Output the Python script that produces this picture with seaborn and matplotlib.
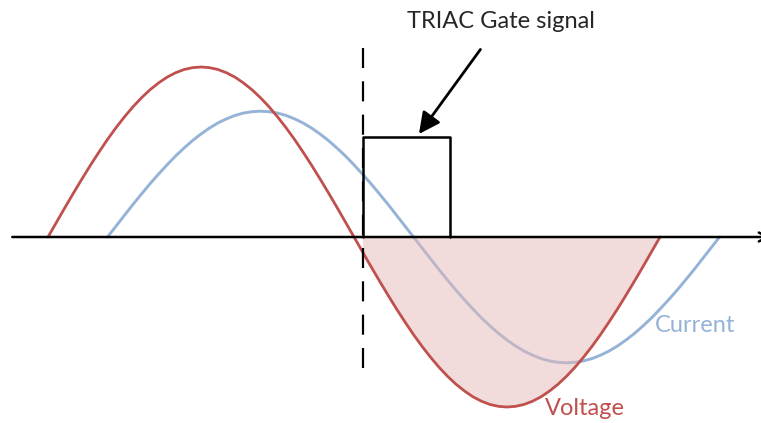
import numpy as np
import matplotlib
matplotlib.use("Agg")
import matplotlib.pyplot as plt
import seaborn as sns
from matplotlib.patches import Rectangle

volt_deg = list(range(0, 361, 5))
voltage = [0, .087, .174, .259, .342, .423, .500, .574, .643, .707, .766, .819, .866, .906, .940, .966, .985, .996,
           1.000, .996, .985, .966, .940, .906, .866, .819, .766, .707, .643, .574, .500, .423, .342, .259, .174, .087,
           0, -.087, -.174, -.259, -.342, -.423, -.500, -.574, -.643, -.707, -.766, -.819, -.866, -.906, -.940, -.966, -.985, -.996,
           -1.000, -.996, -.985, -.966, -.940, -.906, -.866, -.819, -.766, -.707, -.643, -.574, -.500, -.423, -.342, -.259, -.174, -.087,
           0]

curr_deg = list(range(35, 396, 5))
current = [0, .064, .128, .192, .253, .313, .370, .424, .476, .523, .567, .606, .641, .671, .695, .715, .729, .737,
           .740, .737, .729, .715, .695, .671, .641, .606, .567, .523, .476, .424, .370, .313, .253, .192, .128, .064,
           0, -.064, -.128, -.192, -.253, -.313, -.370, -.424, -.476, -.523, -.567, -.606, -.641, -.671, -.695, -.715, -.729, -.737,
           -.740, -.737, -.729, -.715, -.695, -.671, -.641, -.606, -.567, -.523, -.476, -.424, -.370, -.313, -.253, -.192, -.128, -.064,
           0]

gate_on = 185      # firing angle
gate_off = 236.5
gate_level = 0.59

red = "#c0504d"
blue = "#95b3d7"

sns.set_style("white")
plt.rcParams["font.family"] = ["Lato", "DejaVu Sans"]

fig = plt.figure(figsize=(7.61, 4.23), dpi=100)
ax = fig.add_axes([0, 0, 1, 1])

sns.lineplot(x=curr_deg, y=current, color=blue, lw=2.1, ax=ax, zorder=2)

vd = np.array(volt_deg)
vv = np.array(voltage)
fill = ax.fill_between(vd, vv, 0, where=vd >= 180, color="#e6b9b8", alpha=0.5, lw=0, zorder=3)
fill.set_clip_path(Rectangle((gate_on, -2), 400, 4, transform=ax.transData))

sns.lineplot(x=volt_deg, y=voltage, color=red, lw=2, ax=ax, zorder=4)

# horizontal axis with open arrow (tip just past the right edge)
ax.annotate("", xy=(425, 0), xytext=(-21, 0), annotation_clip=False,
            arrowprops=dict(arrowstyle="->", lw=1.8, color="black", mutation_scale=16,
                            shrinkA=0, shrinkB=0), zorder=5)

# gate pulse
ax.plot([gate_on, gate_on, gate_off, gate_off], [0, gate_level, gate_level, 0],
        color="black", lw=1.8, zorder=6)

# firing angle marker
ax.plot([gate_on, gate_on], [1.11, -0.78], color="black", lw=1.6, dashes=(9, 6), zorder=6)

ax.annotate("TRIAC Gate signal", xy=(218.2, 0.606), xytext=(266.5, 1.27),
            ha="center", va="center", fontsize=17,
            arrowprops=dict(arrowstyle="-|>", lw=2, color="black", mutation_scale=32,
                            shrinkA=13, shrinkB=0))

ax.text(380.6, -0.52, "Current", color=blue, fontsize=17, ha="center", va="center")
ax.text(315.9, -1.01, "Voltage", color=red, fontsize=17, ha="center", va="center")

ax.set_xlim(-28.24, 419.4)
ax.set_ylim(-1.094, 1.394)
ax.axis("off")

fig.savefig("out.png", dpi=100)
